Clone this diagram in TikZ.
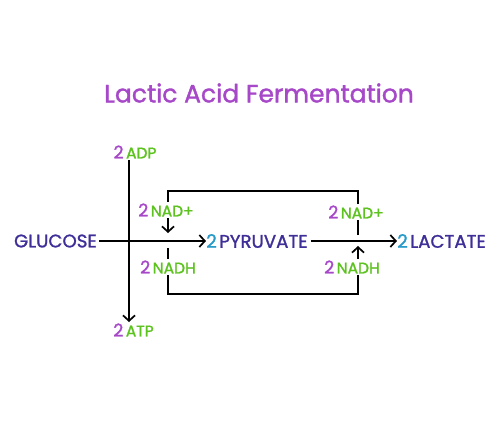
\documentclass[tikz,border=0pt]{standalone}
\usepackage{fontspec}
\setmainfont{Poppins}[FakeBold=1.4]
\usetikzlibrary{arrows.meta}
\definecolor{ttl}{HTML}{A648C8}
\definecolor{num}{HTML}{A648C8}
\definecolor{grn}{HTML}{5CC21E}
\definecolor{ind}{HTML}{3E2F98}
\definecolor{cyn}{HTML}{2A9BC9}
\newcommand{\nm}[1]{{\color{num}\fontsize{17.5}{17}\selectfont #1}\hspace{2.5pt}}
\newcommand{\cn}[1]{{\color{cyn}\fontsize{18.5}{18}\selectfont #1}\hspace{2.5pt}}
\tikzset{
  mol/.style={inner sep=0pt, text=ind, font=\fontsize{18.2}{18}\selectfont},
  cof/.style={inner sep=1pt, text=grn, font=\fontsize{15.5}{15}\selectfont},
  lab/.style={cof, fill=white, inner sep=2pt},
  conn/.style={line width=1.7pt, black},
  tip/.style={-{Straight Barb[length=5.5pt,width=12pt,line width=1.7pt]}},
}
\begin{document}
\begin{tikzpicture}[x=1pt,y=-1pt]
\useasboundingbox (0,0) rectangle (500,445);
\node[text=ttl, font=\fontsize{25}{26}\selectfont, inner sep=0pt] (title) at (259,93) {Lactic Acid Fermentation};
\node[mol, anchor=east] (glu) at (97,241) {GLUCOSE};
\node[mol, anchor=west] (pyr) at (206,241) {\cn{2}PYRUVATE};
\node[mol, anchor=west] (lac) at (397,241) {\cn{2}LACTATE};
\node[cof] (adp) at (135,152) {\nm{2}ADP};
\node[cof] (atp) at (133.5,330) {\nm{2}ATP};
\coordinate (vt) at (129,160);
\coordinate (vb) at (129,322);
\coordinate (tl) at (168,191);
\coordinate (tr) at (358,191);
\coordinate (bl) at (168,294);
\coordinate (br) at (358,294);
\coordinate (l1) at (168,233);
\coordinate (l2) at (168,248);
\coordinate (r1) at (358,235);
\coordinate (r2) at (358,246);
% main arrows
\draw[conn, tip] (glu.east) ++(2,0) -- (pyr.west);
\draw[conn, tip] (pyr.east) ++(3,0) -- (lac.west);
\draw[conn, tip] (vt) -- (vb);
% loop
\draw[conn, tip] (r1) -- (tr) -- (tl) -- (l1);
\draw[conn, tip] (l2) -- (bl) -- (br) -- (r2);
% labels over loop
\node[lab] (nadL) at (166,210) {\nm{2}NAD+};
\node[lab] (nadhL) at (168,267) {\nm{2}NADH};
\node[lab] (nadR) at (356,212) {\nm{2}NAD+};
\node[lab] (nadhR) at (352,267) {\nm{2}NADH};
\end{tikzpicture}
\end{document}
